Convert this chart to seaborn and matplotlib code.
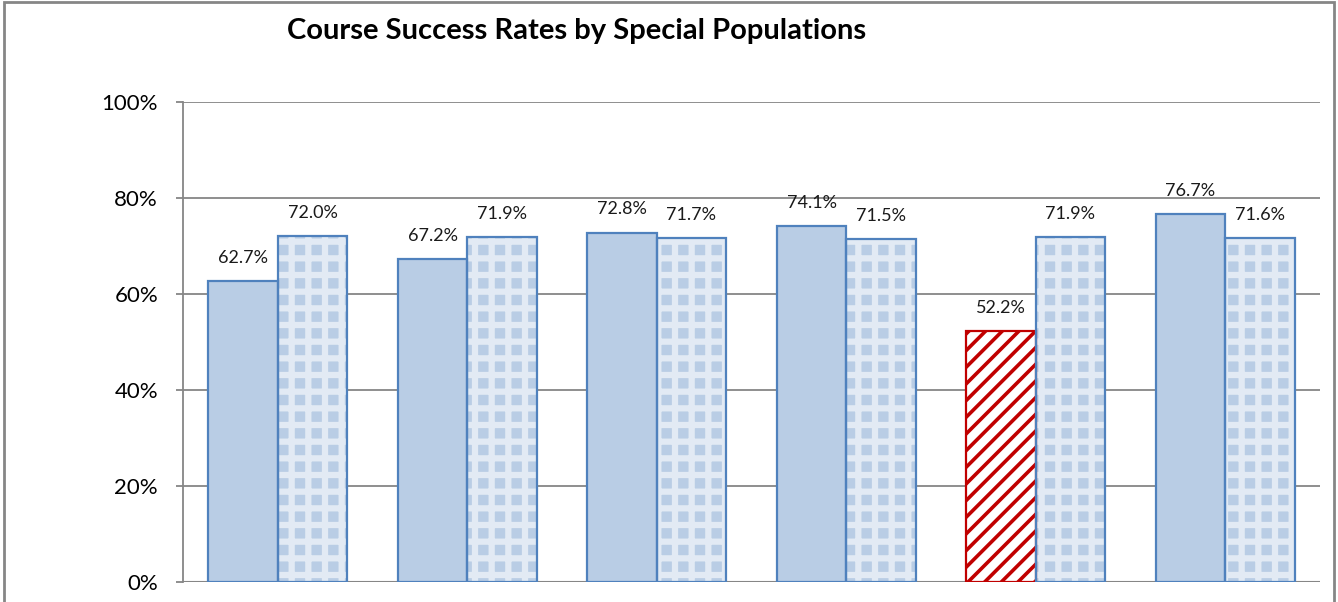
import matplotlib
matplotlib.use("Agg")
import matplotlib.pyplot as plt
import seaborn as sns
import pandas as pd
from matplotlib.patches import Rectangle
from matplotlib.ticker import PercentFormatter

# Course success rate (%) for each special population and its comparison group
populations = ["Population A", "Population B", "Population C",
               "Population D", "Population E", "Population F"]
group_rate = [62.7, 67.2, 72.8, 74.1, 52.2, 76.7]
comparison_rate = [72.0, 71.9, 71.7, 71.5, 71.9, 71.6]
series_names = ["Special Population", "All Other Students"]
y_ticks = [0, 20, 40, 60, 80, 100]

df = pd.DataFrame({
    "population": populations * 2,
    "series": [series_names[0]] * len(populations) + [series_names[1]] * len(populations),
    "rate": group_rate + comparison_rate,
})

sns.set_style("white")
plt.rcParams["font.family"] = ["Lato", "DejaVu Sans"]

fig = plt.figure(figsize=(13.38, 6.02), dpi=100)
ax = fig.add_axes([0.1368, 0.0332, 0.8497, 0.7974])

solid = "#b9cde5"
edge = "#4f81bd"
red = "#c00000"

sns.barplot(data=df, x="population", y="rate", hue="series",
            palette=[solid, "white"], saturation=1, width=0.733, gap=0,
            linewidth=0, legend=False, ax=ax)

def set_hatch_lw(p, lw):
    if hasattr(p, "set_hatch_linewidth"):
        p.set_hatch_linewidth(lw)

# comparison bars: light blue check pattern
for p in ax.containers[1]:
    p.set_facecolor(solid)
    p.set_edgecolor("#e2eaf4")
    p.set_hatch("+")
    set_hatch_lw(p, 4.5)

# lowest group bar highlighted with red diagonal stripes
low_idx = group_rate.index(min(group_rate))
low = ax.containers[0][low_idx]
low.set_facecolor("white")
low.set_edgecolor(red)
low.set_hatch("//")
set_hatch_lw(low, 2.6)

# outlines drawn on top of the patterned fills
for cont in ax.containers:
    for i, p in enumerate(cont):
        ec = red if (cont is ax.containers[0] and i == low_idx) else edge
        ax.add_patch(Rectangle((p.get_x(), p.get_y()), p.get_width(), p.get_height(),
                               fill=False, edgecolor=ec, linewidth=1.6, zorder=3))

for cont in ax.containers:
    ax.bar_label(cont, labels=[f"{v:.1f}%" for v in cont.datavalues],
                 padding=11, fontsize=13, color="#1a1a1a")

ax.set_ylim(0, 100)
ax.set_xlim(-0.5, len(populations) - 0.5)
ax.set_yticks(y_ticks)
ax.yaxis.set_major_formatter(PercentFormatter(decimals=0))
ax.tick_params(axis="y", labelsize=16, length=5, width=1.3, color="#868686",
               labelcolor="black", left=True, pad=13)
ax.tick_params(axis="x", bottom=False, labelbottom=False)
ax.set_xlabel("")
ax.set_ylabel("")
ax.yaxis.grid(True, color="#868686", linewidth=1.3)
ax.set_axisbelow(True)
for s in ["top", "right", "bottom"]:
    ax.spines[s].set_visible(False)
ax.spines["left"].set_color("#868686")
ax.spines["left"].set_linewidth(1.3)
ax.axhline(0, color="#868686", linewidth=1.5, zorder=0.5)

fig.text(0.4312, 0.948, "Course Success Rates by Special Populations",
         ha="center", va="center", fontsize=21, fontweight="bold", color="black")

# chart frame
fig.add_artist(Rectangle((0.003, -0.05), 0.994, 1.046, transform=fig.transFigure,
                         fill=False, edgecolor="#868686", linewidth=2))

fig.savefig("out.png", dpi=100)
